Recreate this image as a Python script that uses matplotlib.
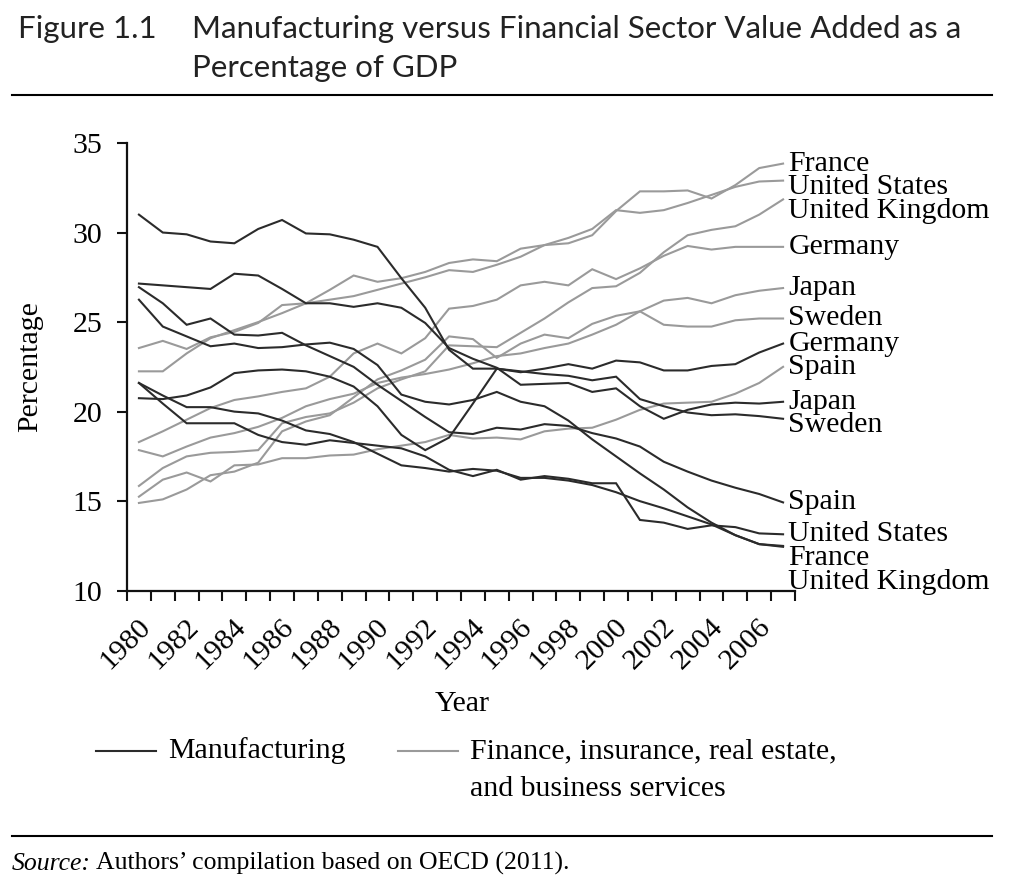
import matplotlib
matplotlib.use('Agg')
import matplotlib.pyplot as plt
import matplotlib.transforms as mtransforms
from matplotlib.lines import Line2D

# Years on the x axis (one category per year)
years = list(range(1980, 2008))
year_labels = [y for y in years if y % 2 == 0]

# Manufacturing value added, % of GDP
mfg_germany = [31.0, 30.0, 29.9, 29.5, 29.4, 30.2, 30.7, 29.95, 29.9, 29.6,
               29.2, 27.45, 25.8, 23.45, 22.4, 22.4, 22.2, 22.4, 22.65, 22.4,
               22.85, 22.75, 22.3, 22.3, 22.55, 22.65, 23.3, 23.8]
mfg_japan = [27.15, 27.05, 26.95, 26.85, 27.7, 27.6, 26.85, 26.05, 26.05, 25.85,
             26.05, 25.8, 24.95, 23.55, 22.95, 22.45, 21.5, 21.55, 21.6, 21.1,
             21.3, 20.3, 19.6, 20.1, 20.4, 20.5, 20.45, 20.55]
mfg_sweden = [20.75, 20.7, 20.9, 21.35, 22.15, 22.3, 22.35, 22.25, 21.95, 21.4,
              20.3, 18.7, 17.85, 18.55, 20.45, 22.4, 22.25, 22.1, 22.0, 21.75,
              21.95, 20.7, 20.3, 19.95, 19.8, 19.85, 19.75, 19.6]
mfg_spain = [26.95, 26.05, 24.85, 25.2, 24.3, 24.25, 24.4, 23.7, 23.1, 22.5,
             21.5, 20.6, 19.7, 18.85, 18.75, 19.1, 19.0, 19.3, 19.2, 18.8,
             18.5, 18.05, 17.2, 16.65, 16.15, 15.75, 15.4, 14.93]
mfg_us = [21.6, 20.45, 19.35, 19.35, 19.35, 18.7, 18.3, 18.15, 18.4, 18.25,
          18.1, 17.95, 17.5, 16.75, 16.4, 16.75, 16.2, 16.4, 16.25, 16.0,
          16.0, 13.95, 13.8, 13.45, 13.65, 13.55, 13.2, 13.15]
mfg_france = [21.6, 20.9, 20.25, 20.25, 20.0, 19.9, 19.5, 18.95, 18.75, 18.3,
              17.65, 17.0, 16.85, 16.65, 16.8, 16.7, 16.3, 16.3, 16.15, 15.9,
              15.5, 15.0, 14.6, 14.15, 13.7, 13.1, 12.6, 12.5]
mfg_uk = [26.25, 24.75, 24.2, 23.65, 23.8, 23.55, 23.6, 23.75, 23.85, 23.5,
          22.6, 20.95, 20.55, 20.4, 20.65, 21.1, 20.55, 20.3, 19.5, 18.45,
          17.5, 16.55, 15.65, 14.65, 13.8, 13.1, 12.6, 12.45]

# Finance, insurance, real estate and business services, % of GDP
fin_france = [22.25, 22.25, 23.25, 24.1, 24.55, 25.0, 25.5, 26.05, 26.8, 27.6,
              27.25, 27.45, 27.8, 28.3, 28.5, 28.4, 29.1, 29.3, 29.4, 29.85,
              31.2, 32.3, 32.3, 32.35, 31.9, 32.65, 33.6, 33.85]
fin_us = [23.55, 23.95, 23.5, 24.15, 24.45, 24.95, 25.95, 26.05, 26.25, 26.45,
          26.8, 27.15, 27.5, 27.9, 27.8, 28.2, 28.65, 29.3, 29.7, 30.2,
          31.25, 31.1, 31.25, 31.65, 32.1, 32.55, 32.85, 32.9]
fin_uk = [15.85, 16.85, 17.5, 17.7, 17.75, 17.85, 19.35, 19.7, 19.9, 20.5,
          21.3, 21.8, 22.25, 23.7, 23.65, 23.6, 24.4, 25.2, 26.1, 26.9,
          27.0, 27.75, 28.9, 29.85, 30.15, 30.35, 31.0, 31.85]
fin_germany = [18.3, 18.9, 19.55, 20.2, 20.65, 20.85, 21.1, 21.3, 21.95, 23.25,
               23.8, 23.25, 24.1, 25.75, 25.9, 26.25, 27.05, 27.25, 27.05, 27.95,
               27.4, 28.0, 28.7, 29.25, 29.05, 29.2, 29.2, 29.2]
fin_japan = [17.85, 17.5, 18.05, 18.55, 18.8, 19.15, 19.65, 20.3, 20.7, 21.0,
             21.6, 21.9, 22.1, 22.35, 22.7, 23.1, 23.25, 23.55, 23.8, 24.3,
             24.85, 25.6, 26.2, 26.35, 26.05, 26.5, 26.75, 26.9]
fin_sweden = [14.9, 15.1, 15.65, 16.45, 16.65, 17.15, 18.9, 19.45, 19.8, 20.8,
              21.8, 22.3, 22.9, 24.2, 24.05, 23.0, 23.8, 24.3, 24.1, 24.9,
              25.35, 25.6, 24.85, 24.75, 24.75, 25.1, 25.2, 25.2]
fin_spain = [15.25, 16.2, 16.6, 16.1, 17.0, 17.05, 17.4, 17.4, 17.55, 17.6,
             17.9, 18.1, 18.3, 18.7, 18.5, 18.55, 18.45, 18.9, 19.05, 19.1,
             19.55, 20.1, 20.45, 20.5, 20.55, 21.0, 21.6, 22.5]

mfg_series = {
    "Germany": mfg_germany, "Japan": mfg_japan, "Sweden": mfg_sweden,
    "Spain": mfg_spain, "United States": mfg_us, "France": mfg_france,
    "United Kingdom": mfg_uk,
}
fin_series = {
    "France": fin_france, "United States": fin_us, "United Kingdom": fin_uk,
    "Germany": fin_germany, "Japan": fin_japan, "Sweden": fin_sweden,
    "Spain": fin_spain,
}

MFG_COLOR = '#2b2b2b'
FIN_COLOR = '#9a9a9a'
SERIF = ['Liberation Serif', 'DejaVu Serif']
SANS = ['Lato', 'DejaVu Sans']
TXT = 21.5  # body text size (pt)

W, H = 1024, 880
fig = plt.figure(figsize=(W / 100, H / 100), dpi=100)
fig.patch.set_facecolor('white')

# axes box in pixel terms of the reference
ax_left, ax_right, ax_bottom, ax_top = 127, 795, 590.7, 143
ax = fig.add_axes([ax_left / W, 1 - ax_bottom / H,
                   (ax_right - ax_left) / W, (ax_bottom - ax_top) / H])

for name, vals in fin_series.items():
    ax.plot(years, vals, color=FIN_COLOR, lw=1.5, solid_joinstyle='miter')
for name, vals in mfg_series.items():
    ax.plot(years, vals, color=MFG_COLOR, lw=1.5, solid_joinstyle='miter')

ax.set_xlim(years[0] - 0.5, years[-1] + 0.5)
ax.set_ylim(10, 35)
for side in ['top', 'right']:
    ax.spines[side].set_visible(False)
for side in ['left', 'bottom']:
    ax.spines[side].set_linewidth(1.6)
    ax.spines[side].set_color('#111111')

# category boundaries as ticks, labels every second year drawn by hand
ax.set_xticks([y - 0.5 for y in years] + [years[-1] + 0.5])
ax.set_xticklabels([])
ax.set_yticks([10, 15, 20, 25, 30, 35])
ax.tick_params(axis='both', direction='out', length=7, width=1.5, color='#111111')
ax.tick_params(axis='y', pad=11)
for lab in ax.get_yticklabels():
    lab.set_fontfamily(SERIF)
    lab.set_fontsize(TXT)

xlab_trans = mtransforms.offset_copy(ax.transData, fig=fig, x=0, y=-23, units='dots')
for y in year_labels:
    ax.text(y + 0.7, 10, str(y), rotation=45, ha='right', va='top',
            transform=xlab_trans, fontsize=TXT, family=SERIF, clip_on=False)

fig.text(462 / W, 1 - 704 / H, 'Year', ha='center', va='center',
         fontsize=TXT, family=SERIF)
fig.text(30 / W, 1 - 367 / H, 'Percentage', rotation=90, ha='center',
         va='center', fontsize=TXT, family=SERIF)

# end-of-line country labels, pushed down so they do not overlap
ends = [(vals[-1], name) for name, vals in fin_series.items()]
ends += [(vals[-1], name) for name, vals in mfg_series.items()]
ends.sort(reverse=True)
gap = 1.32
prev = None
for val, name in ends:
    pos = val if prev is None else min(val, prev - gap)
    ax.text(years[-1] + 0.22, pos, name, ha='left', va='center',
            fontsize=TXT, family=SERIF, clip_on=False)
    prev = pos

# title block
title_kw = dict(ha='left', va='baseline', fontsize=22.5, family=SANS,
                color='#222222')
fig.text(18 / W, 1 - 38 / H, 'Figure 1.1', **title_kw)
fig.text(192 / W, 1 - 38 / H,
         'Manufacturing versus Financial Sector Value Added as a', **title_kw)
fig.text(192 / W, 1 - 77 / H, 'Percentage of GDP', **title_kw)

# horizontal rules
fig.add_artist(Line2D([12 / W, 992 / W], [1 - 95 / H, 1 - 95 / H],
                      color='black', lw=1.5))
fig.add_artist(Line2D([12 / W, 992 / W], [1 - 836 / H, 1 - 836 / H],
                      color='black', lw=1.5))

# legend
fig.add_artist(Line2D([96 / W, 156 / W], [1 - 751 / H, 1 - 751 / H],
                      color=MFG_COLOR, lw=1.5))
fig.text(168 / W, 1 - 751 / H, 'Manufacturing', ha='left', va='center',
         fontsize=TXT, family=SERIF)
fig.add_artist(Line2D([398 / W, 458 / W], [1 - 751 / H, 1 - 751 / H],
                      color=FIN_COLOR, lw=1.5))
fig.text(470 / W, 1 - 751 / H, 'Finance, insurance, real estate,', ha='left',
         va='center', fontsize=TXT, family=SERIF)
fig.text(470 / W, 1 - 789 / H, 'and business services', ha='left',
         va='center', fontsize=TXT, family=SERIF)

# source note
src = fig.text(12 / W, 1 - 870 / H, 'Source:', ha='left', va='baseline',
               fontsize=18.5, family=SERIF, style='italic')
fig.canvas.draw()
bb = src.get_window_extent()
fig.text((bb.x1 + 5) / W, 1 - 870 / H,
         "Authors\u2019 compilation based on OECD (2011).", ha='left',
         va='baseline', fontsize=18.5, family=SERIF)

fig.savefig('out.png', dpi=100)
